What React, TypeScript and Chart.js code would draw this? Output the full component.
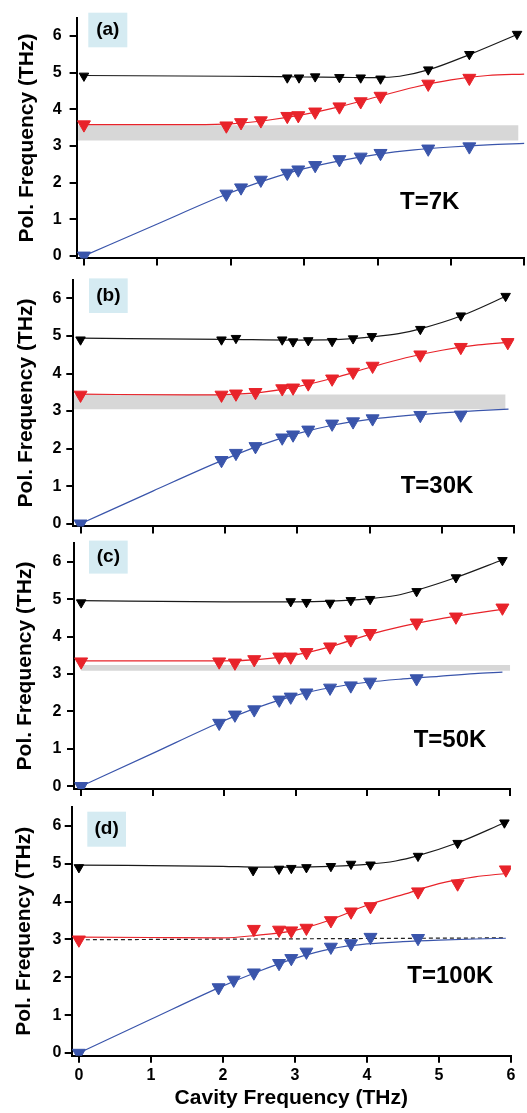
import React, { useEffect, useRef } from "react";
import { Chart, registerables } from "chart.js";

Chart.register(...registerables);

const X_TICKS = [0, 1, 2, 3, 4, 5, 6];
const Y_TICKS = [0, 1, 2, 3, 4, 5, 6];
const X_TITLE = "Cavity Frequency (THz)";
const Y_TITLE = "Pol. Frequency (THz)";
const PANEL_LABELS = ["(a)", "(b)", "(c)", "(d)"];
const TEMP_LABELS = ["T=7K", "T=30K", "T=50K", "T=100K"];

// ---------- Panel (a) T=7K ----------
const A_UP_X = [0, 2.77, 2.93, 3.15, 3.48, 3.77, 4.04, 4.69, 5.25, 5.9];
const A_UP_Y = [4.91, 4.86, 4.86, 4.89, 4.87, 4.86, 4.83, 5.08, 5.5, 6.05];
const A_MID_X = [0, 1.94, 2.14, 2.41, 2.77, 2.92, 3.15, 3.48, 3.77, 4.04, 4.69, 5.25];
const A_MID_Y = [3.58, 3.55, 3.64, 3.69, 3.81, 3.83, 3.93, 4.07, 4.21, 4.36, 4.69, 4.85];
const A_LOW_X = [0, 1.94, 2.14, 2.41, 2.77, 2.92, 3.15, 3.48, 3.77, 4.04, 4.69, 5.25];
const A_LOW_Y = [0, 1.69, 1.86, 2.07, 2.26, 2.35, 2.47, 2.63, 2.7, 2.8, 2.92, 2.98];
const A_UP_FIT_X = [0, 2, 3, 3.5, 4, 4.3, 4.7, 5.25, 5.95];
const A_UP_FIT_Y = [4.92, 4.9, 4.88, 4.87, 4.86, 4.9, 5.08, 5.49, 6.08];
const A_MID_FIT_X = [0, 1.5, 2, 2.5, 3, 3.5, 4, 4.5, 5, 5.5, 6];
const A_MID_FIT_Y = [3.58, 3.58, 3.6, 3.7, 3.86, 4.08, 4.34, 4.6, 4.8, 4.92, 4.96];
const A_LOW_FIT_X = [0, 1, 1.94, 2.5, 3, 3.5, 4, 4.5, 5, 5.5, 6];
const A_LOW_FIT_Y = [0, 0.87, 1.68, 2.08, 2.38, 2.6, 2.77, 2.89, 2.97, 3.03, 3.07];
const A_BAND_X = [-0.08, 5.92];
const A_BAND_LO = 3.15;
const A_BAND_HI = [3.56, 3.56];

// ---------- Panel (b) T=30K ----------
const B_UP_X = [0, 1.95, 2.15, 2.79, 2.94, 3.15, 3.48, 3.77, 4.03, 4.7, 5.26, 5.88];
const B_UP_Y = [4.9, 4.9, 4.94, 4.9, 4.85, 4.88, 4.86, 4.93, 4.99, 5.18, 5.54, 6.06];
const B_MID_X = [0, 1.95, 2.15, 2.42, 2.79, 2.94, 3.15, 3.48, 3.77, 4.04, 4.7, 5.26, 5.91];
const B_MID_Y = [3.43, 3.43, 3.46, 3.5, 3.6, 3.62, 3.73, 3.86, 4.04, 4.2, 4.5, 4.7, 4.83];
const B_LOW_X = [0, 1.95, 2.15, 2.42, 2.79, 2.94, 3.15, 3.48, 3.77, 4.04, 4.7, 5.26];
const B_LOW_Y = [0, 1.69, 1.88, 2.06, 2.29, 2.37, 2.5, 2.66, 2.72, 2.8, 2.89, 2.9];
const B_UP_FIT_X = [0, 2, 3, 3.5, 4, 4.4, 4.7, 5.26, 5.9];
const B_UP_FIT_Y = [4.94, 4.91, 4.89, 4.9, 4.97, 5.06, 5.19, 5.53, 6.07];
const B_MID_FIT_X = [0, 1.5, 2, 2.5, 3, 3.5, 4, 4.5, 5, 5.5, 5.92];
const B_MID_FIT_Y = [3.45, 3.43, 3.44, 3.5, 3.65, 3.88, 4.16, 4.42, 4.62, 4.76, 4.83];
const B_LOW_FIT_X = [0, 1, 1.95, 2.5, 3, 3.5, 4, 4.5, 5, 5.5, 5.92];
const B_LOW_FIT_Y = [0, 0.87, 1.68, 2.1, 2.4, 2.63, 2.78, 2.88, 2.95, 3.01, 3.05];
const B_BAND_X = [-0.09, 5.88];
const B_BAND_LO = 3.05;
const B_BAND_HI = [3.44, 3.44];

// ---------- Panel (c) T=50K ----------
const C_UP_X = [0, 2.93, 3.15, 3.48, 3.77, 4.04, 4.69, 5.24, 5.89];
const C_UP_Y = [4.91, 4.94, 4.92, 4.9, 4.97, 5.0, 5.21, 5.58, 6.04];
const C_MID_X = [0, 1.93, 2.15, 2.42, 2.77, 2.93, 3.15, 3.48, 3.77, 4.04, 4.69, 5.24, 5.89];
const C_MID_Y = [3.33, 3.33, 3.3, 3.39, 3.46, 3.46, 3.58, 3.73, 3.92, 4.09, 4.37, 4.53, 4.77];
const C_LOW_X = [0, 1.93, 2.15, 2.42, 2.77, 2.93, 3.15, 3.48, 3.77, 4.04, 4.69];
const C_LOW_Y = [0, 1.69, 1.91, 2.05, 2.31, 2.39, 2.5, 2.63, 2.69, 2.79, 2.88];
const C_UP_FIT_X = [0, 2, 3, 3.5, 4, 4.4, 4.69, 5.24, 5.9];
const C_UP_FIT_Y = [4.96, 4.93, 4.93, 4.95, 5.01, 5.1, 5.24, 5.58, 6.06];
const C_MID_FIT_X = [0, 1.5, 2, 2.5, 3, 3.5, 4, 4.5, 5, 5.5, 5.89];
const C_MID_FIT_Y = [3.35, 3.35, 3.35, 3.39, 3.51, 3.74, 4.04, 4.28, 4.47, 4.62, 4.73];
const C_LOW_FIT_X = [0, 1, 1.93, 2.5, 3, 3.5, 4, 4.5, 5, 5.5, 5.89];
const C_LOW_FIT_Y = [0, 0.88, 1.7, 2.13, 2.43, 2.64, 2.78, 2.87, 2.94, 3.01, 3.05];
const C_BAND_X = [0, 6.0];
const C_BAND_LO = 3.09;
const C_BAND_HI = [3.24, 3.24];

// ---------- Panel (d) T=100K ----------
const D_UP_X = [0, 2.42, 2.78, 2.95, 3.16, 3.5, 3.78, 4.05, 4.71, 5.26, 5.91];
const D_UP_Y = [4.9, 4.82, 4.86, 4.88, 4.9, 4.93, 4.99, 4.97, 5.2, 5.54, 6.08];
const D_MID_X = [0, 2.43, 2.78, 2.95, 3.16, 3.5, 3.78, 4.05, 4.71, 5.26, 5.93];
const D_MID_Y = [2.99, 3.27, 3.25, 3.23, 3.3, 3.5, 3.73, 3.87, 4.26, 4.47, 4.84];
const D_LOW_X = [0, 1.94, 2.15, 2.43, 2.78, 2.95, 3.16, 3.5, 3.78, 4.05, 4.71];
const D_LOW_Y = [0, 1.73, 1.93, 2.12, 2.37, 2.5, 2.67, 2.8, 2.89, 3.06, 3.03];
const D_UP_FIT_X = [0, 2, 2.5, 3, 3.5, 4, 4.4, 4.71, 5.26, 5.91];
const D_UP_FIT_Y = [4.96, 4.93, 4.91, 4.91, 4.93, 4.98, 5.07, 5.21, 5.55, 6.08];
const D_MID_FIT_X = [0, 1, 2, 2.43, 3, 3.5, 4, 4.5, 5, 5.5, 5.93];
const D_MID_FIT_Y = [3.06, 3.05, 3.04, 3.1, 3.24, 3.52, 3.9, 4.18, 4.47, 4.65, 4.74];
const D_LOW_FIT_X = [0, 1, 1.94, 2.5, 3, 3.5, 4, 4.5, 5, 5.5, 5.93];
const D_LOW_FIT_Y = [0, 0.89, 1.72, 2.16, 2.5, 2.75, 2.88, 2.94, 2.98, 3.01, 3.03];
const D_DASH_X = [0, 5.93];
const D_DASH_Y = [2.99, 3.04];

const FONT = "'Liberation Sans', Arial, Helvetica, sans-serif";
const RED = "#e8232a";
const BLUE = "#3a55ab";
const BLACK = "#000000";

const pts = (xs: number[], ys: number[]) => xs.map((x, i) => ({ x, y: ys[i] }));

type PanelData = {
  up: [number[], number[]];
  mid: [number[], number[]];
  low: [number[], number[]];
  upFit: [number[], number[]];
  midFit: [number[], number[]];
  lowFit: [number[], number[]];
  band?: { x: number[]; hi: number[]; lo: number };
  dash?: [number[], number[]];
};

const DATA: PanelData[] = [
  {
    up: [A_UP_X, A_UP_Y], mid: [A_MID_X, A_MID_Y], low: [A_LOW_X, A_LOW_Y],
    upFit: [A_UP_FIT_X, A_UP_FIT_Y], midFit: [A_MID_FIT_X, A_MID_FIT_Y], lowFit: [A_LOW_FIT_X, A_LOW_FIT_Y],
    band: { x: A_BAND_X, hi: A_BAND_HI, lo: A_BAND_LO },
  },
  {
    up: [B_UP_X, B_UP_Y], mid: [B_MID_X, B_MID_Y], low: [B_LOW_X, B_LOW_Y],
    upFit: [B_UP_FIT_X, B_UP_FIT_Y], midFit: [B_MID_FIT_X, B_MID_FIT_Y], lowFit: [B_LOW_FIT_X, B_LOW_FIT_Y],
    band: { x: B_BAND_X, hi: B_BAND_HI, lo: B_BAND_LO },
  },
  {
    up: [C_UP_X, C_UP_Y], mid: [C_MID_X, C_MID_Y], low: [C_LOW_X, C_LOW_Y],
    upFit: [C_UP_FIT_X, C_UP_FIT_Y], midFit: [C_MID_FIT_X, C_MID_FIT_Y], lowFit: [C_LOW_FIT_X, C_LOW_FIT_Y],
    band: { x: C_BAND_X, hi: C_BAND_HI, lo: C_BAND_LO },
  },
  {
    up: [D_UP_X, D_UP_Y], mid: [D_MID_X, D_MID_Y], low: [D_LOW_X, D_LOW_Y],
    upFit: [D_UP_FIT_X, D_UP_FIT_Y], midFit: [D_MID_FIT_X, D_MID_FIT_Y], lowFit: [D_LOW_FIT_X, D_LOW_FIT_Y],
    dash: [D_DASH_X, D_DASH_Y],
  },
];

// layout (pixels, relative to each canvas)
const LAYOUT = [
  { top: 0, height: 276, padTop: 5.5, padRight: 2.6, yWidth: 76.6, xHeight: 10.3, tickPad: 8, titleX: 27, box: [88.3, 12.7, 39, 34.6], temp: [429.7, 202.8], showX: false },
  { top: 265, height: 276, padTop: 6.3, padRight: 12.7, yWidth: 73.3, xHeight: 12.2, tickPad: 5, titleX: 26, box: [89, 13.4, 38.7, 34.6], temp: [437, 221], showX: false },
  { top: 528, height: 276, padTop: 5.7, padRight: 16.7, yWidth: 74, xHeight: 10.1, tickPad: 5.5, titleX: 25.5, box: [89, 12.6, 38.7, 33], temp: [450, 212], showX: false },
  { top: 794, height: 319, padTop: 5.5, padRight: 16.1, yWidth: 71.7, xHeight: 57.3, tickPad: 3.2, titleX: 24.5, box: [87.3, 17.7, 38.7, 35], temp: [450.3, 182.7], showX: true },
];

function Panel({ idx }: { idx: number }) {
  const ref = useRef<HTMLCanvasElement>(null);
  const L = LAYOUT[idx];
  useEffect(() => {
    const d = DATA[idx];
    const datasets: any[] = [];
    if (d.band) {
      datasets.push({
        data: pts(d.band.x, d.band.hi),
        borderWidth: 0,
        borderColor: "rgba(0,0,0,0)",
        backgroundColor: "#d7d7d7",
        pointRadius: 0,
        fill: { value: d.band.lo },
        order: 30,
      });
    }
    if (d.dash) {
      datasets.push({
        data: pts(d.dash[0], d.dash[1]),
        borderColor: "#222",
        borderWidth: 1.2,
        borderDash: [4, 3],
        pointRadius: 0,
        fill: false,
        order: 20,
      });
    }
    const fit = (p: [number[], number[]], color: string) => ({
      data: pts(p[0], p[1]),
      borderColor: color,
      borderWidth: 1.2,
      pointRadius: 0,
      fill: false,
      cubicInterpolationMode: "monotone",
      order: 10,
    });
    const mark = (p: [number[], number[]], color: string, r: number) => ({
      data: pts(p[0], p[1]),
      showLine: false,
      pointStyle: "triangle",
      rotation: 180,
      pointRadius: r,
      pointBackgroundColor: color,
      pointBorderColor: color,
      pointBorderWidth: 1,
      fill: false,
      order: 1,
    });
    datasets.push(fit(d.upFit, "#1a1a1a"), fit(d.midFit, RED), fit(d.lowFit, BLUE));
    datasets.push(mark(d.up, BLACK, 5.5), mark(d.mid, RED, 7.5), mark(d.low, BLUE, 7.5));

    const annot = {
      id: "annot",
      afterDraw(chart: any) {
        const ctx = chart.ctx;
        ctx.save();
        ctx.fillStyle = "#d5ebf2";
        ctx.fillRect(L.box[0], L.box[1], L.box[2], L.box[3]);
        ctx.fillStyle = "#000";
        ctx.textAlign = "center";
        ctx.textBaseline = "middle";
        ctx.font = `bold 19px ${FONT}`;
        ctx.fillText(PANEL_LABELS[idx], L.box[0] + L.box[2] / 2, L.box[1] + L.box[3] / 2);
        ctx.font = `bold 24px ${FONT}`;
        ctx.fillText(TEMP_LABELS[idx], L.temp[0], L.temp[1]);
        ctx.restore();
      },
    };

    const chart = new Chart(ref.current as HTMLCanvasElement, {
      type: "line",
      data: { datasets },
      plugins: [annot],
      options: {
        animation: false,
        responsive: false,
        events: [],
        layout: { autoPadding: false, padding: { top: L.padTop, right: L.padRight, left: 0, bottom: 0 } },
        plugins: { legend: { display: false }, tooltip: { enabled: false } },
        scales: {
          x: {
            type: "linear",
            min: -0.1,
            max: 6,
            afterBuildTicks: (s: any) => { s.ticks = X_TICKS.map((v) => ({ value: v })); },
            afterFit: (s: any) => { s.height = L.xHeight; },
            grid: { drawOnChartArea: false, drawTicks: true, tickLength: 7, color: "#000", lineWidth: 2 },
            border: { display: true, color: "#000", width: 2 },
            ticks: { display: L.showX, color: "#000", padding: 3, maxRotation: 0, autoSkip: false, font: { family: FONT, size: 16, weight: "bold" } },
            title: { display: L.showX, text: X_TITLE, color: "#000", padding: { top: 0, bottom: 2 }, font: { family: FONT, size: 21, weight: "bold" } },
          },
          y: {
            type: "linear",
            min: -0.07,
            max: 6.5,
            afterBuildTicks: (s: any) => { s.ticks = Y_TICKS.map((v) => ({ value: v })); },
            afterFit: (s: any) => { s.width = L.yWidth; },
            grid: { drawOnChartArea: false, drawTicks: true, tickLength: 7, color: "#000", lineWidth: 2 },
            border: { display: true, color: "#000", width: 2 },
            ticks: { color: "#000", padding: L.tickPad, autoSkip: false, font: { family: FONT, size: 16, weight: "bold" } },
            title: { display: true, text: Y_TITLE, color: "#000", padding: { top: L.titleX - 12.6, bottom: 0 }, font: { family: FONT, size: 21, weight: "bold" } },
          },
        },
      } as any,
    });
    return () => chart.destroy();
  }, [idx]);
  return (
    <canvas
      ref={ref}
      width={527}
      height={L.height}
      style={{ position: "absolute", left: 0, top: L.top, width: 527, height: L.height, display: "block" }}
    />
  );
}

export default function App() {
  return (
    <div style={{ position: "absolute", left: 0, top: 0, width: 527, height: 1113, background: "#fff", overflow: "hidden" }}>
      {LAYOUT.map((_, i) => (
        <Panel key={i} idx={i} />
      ))}
    </div>
  );
}
